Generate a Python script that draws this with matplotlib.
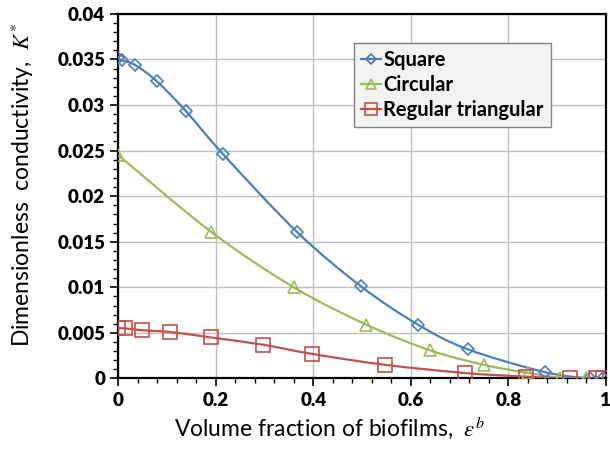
import numpy as np
import matplotlib
matplotlib.use("Agg")
import matplotlib.pyplot as plt
from matplotlib.path import Path
from matplotlib.patches import PathPatch
from matplotlib.ticker import MultipleLocator, FuncFormatter

plt.rcParams["font.family"] = ["Lato", "DejaVu Sans"]
plt.rcParams["mathtext.fontset"] = "stix"

# volume fraction of biofilms vs dimensionless conductivity
sq_x = [0.0, 0.007, 0.034, 0.079, 0.139, 0.215, 0.366, 0.498, 0.615, 0.717, 0.875, 0.967, 0.995]
sq_y = [0.0351, 0.0349, 0.0344, 0.0326, 0.0293, 0.0246, 0.0161, 0.0101, 0.0059, 0.0032, 0.0007, 0.0, 0.0]

ci_x = [0.0, 0.19, 0.36, 0.509, 0.639, 0.75, 0.841, 0.906, 0.96]
ci_y = [0.0245, 0.0161, 0.0100, 0.0059, 0.0031, 0.0015, 0.0006, 0.0001, 0.0]

tr_x = [0.0, 0.014, 0.048, 0.106, 0.19, 0.297, 0.397, 0.547, 0.711, 0.836, 0.927, 0.98, 0.995]
tr_y = [0.0055, 0.0055, 0.0053, 0.0051, 0.0045, 0.0037, 0.0027, 0.0015, 0.0006, 0.0002, 0.0, 0.0, 0.0]

labels = ["Square", "Circular", "Regular triangular"]
colors = ["#4a7ebb", "#9bbb59", "#c0504d"]
markers = ["D", "^", "s"]
msizes = [6.5, 9, 10.5]


def smooth_path(xs, ys):
    # Excel-like smoothed line: Bezier through the data points
    p = np.column_stack([xs, ys])
    verts = [p[0]]
    codes = [Path.MOVETO]
    n = len(p)
    for i in range(n - 1):
        p0 = p[i - 1] if i > 0 else p[i]
        p1 = p[i]
        p2 = p[i + 1]
        p3 = p[i + 2] if i + 2 < n else p[i + 1]
        c1 = p1 + (p2 - p0) / 6.0
        c2 = p2 - (p3 - p1) / 6.0
        verts += [c1, c2, p2]
        codes += [Path.CURVE4] * 3
    return Path(verts, codes)


fig = plt.figure(figsize=(6.1, 4.61), dpi=100)
ax = fig.add_axes([0.194, 0.179, 0.799, 0.791])

for xs, ys, lab, c, m, ms in zip([sq_x, ci_x, tr_x], [sq_y, ci_y, tr_y], labels, colors, markers, msizes):
    ax.add_patch(PathPatch(smooth_path(xs, ys), fill=False, edgecolor=c, lw=1.6, zorder=3))
    ax.plot(xs, ys, linestyle="none", marker=m, ms=ms, mfc="none", mec=c, mew=1.2, zorder=4)
    ax.plot([], [], color=c, lw=1.6, marker=m, ms=ms * 0.85, mfc="none", mec=c, mew=1.2, label=lab)

ax.set_xlim(0, 1)
ax.set_ylim(0, 0.04)
ax.xaxis.set_major_locator(MultipleLocator(0.2))
ax.xaxis.set_minor_locator(MultipleLocator(0.04))
ax.yaxis.set_major_locator(MultipleLocator(0.005))
ax.yaxis.set_minor_locator(MultipleLocator(0.001))
ax.xaxis.set_major_formatter(FuncFormatter(lambda v, p: f"{v:g}"))
ax.yaxis.set_major_formatter(FuncFormatter(lambda v, p: f"{v:g}"))
ax.grid(True, which="major", color="#bfbfbf", lw=1)
ax.set_axisbelow(True)
for s in ax.spines.values():
    s.set_linewidth(1.6)
ax.tick_params(which="major", direction="out", length=6, width=1.2, labelsize=13.5)
ax.tick_params(which="minor", direction="out", length=3.5, width=1.0)
for t in ax.get_xticklabels() + ax.get_yticklabels():
    t.set_fontweight("heavy")

fig.text(0.541, 0.0716, r"Volume fraction of biofilms,  $\varepsilon^{b}$",
         fontsize=16.5, ha="center", va="center")
fig.text(0.037, 0.599, r"Dimensionless  conductivity,  $K^{*}$",
         fontsize=16.5, ha="center", va="center", rotation=90)

leg = ax.legend(loc="upper left", bbox_to_anchor=(0.484, 0.920), borderaxespad=0,
                prop={"weight": "bold", "size": 14.5}, handlelength=1.0, handletextpad=0.1,
                borderpad=0.35, labelspacing=0.25, fancybox=False, framealpha=1)
leg.get_frame().set_facecolor("#f2f2f2")
leg.get_frame().set_edgecolor("#808080")
leg.get_frame().set_linewidth(1.0)

fig.savefig("out.png", dpi=100)
